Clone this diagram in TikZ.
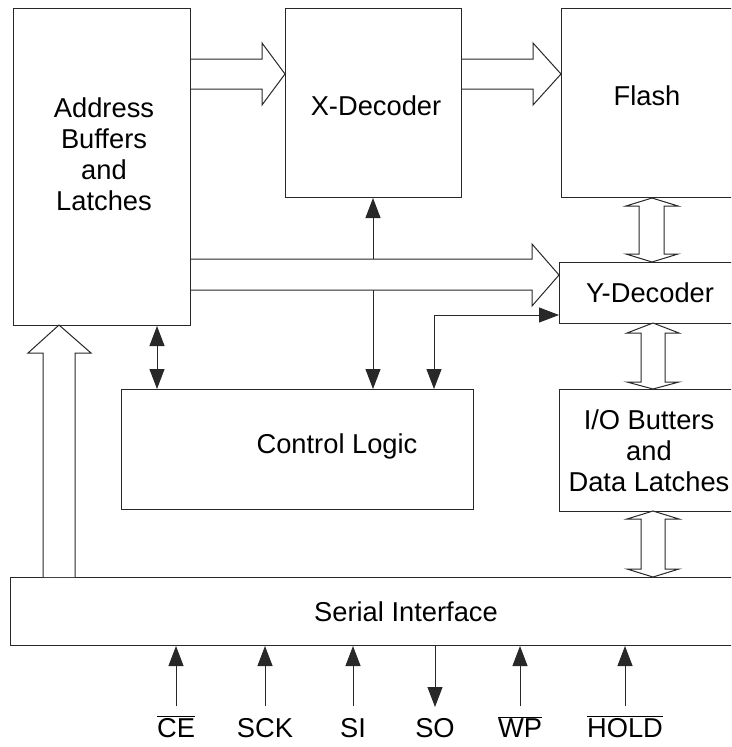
\documentclass[tikz,border=0pt]{standalone}
\usepackage{fontspec}
\setmainfont{Liberation Sans}
\usetikzlibrary{arrows.meta}
\definecolor{linec}{RGB}{40,40,40}
\begin{document}
\begin{tikzpicture}[x=1pt,y=-1pt,
  box/.style={draw=linec, line width=1pt, inner sep=0pt, anchor=north west, fill=white},
  lbl/.style={inner sep=0pt, align=center, font=\fontsize{27.3}{31}\selectfont},
  hollow/.style={draw=linec, line width=1pt, fill=white, line join=miter},
  thin/.style={draw=linec, line width=1pt},
  tip/.style={-{Triangle[width=15pt,length=20pt]}},
  tips/.style={{Triangle[width=15pt,length=20pt]}-{Triangle[width=15pt,length=20pt]}}]
\clip (0,0) rectangle (731,747);
\fill[white] (0,0) rectangle (731,747);
% boxes
\node[box, minimum width=177pt, minimum height=317pt] (addr) at (13,8) {};
\node[box, minimum width=176pt, minimum height=189pt] (xdec) at (285,8) {};
\node[box, minimum width=220pt, minimum height=189pt] (flash) at (561,8) {};
\node[box, minimum width=222pt, minimum height=61pt] (ydec) at (559,262) {};
\node[box, minimum width=222pt, minimum height=122pt] (io) at (559,389) {};
\node[box, minimum width=352pt, minimum height=120pt] (ctrl) at (121,389) {};
\node[box, minimum width=780pt, minimum height=68pt] (serial) at (10,577) {};
% labels
\node[lbl] (addrt) at (104,154) {Address\\Buffers\\and\\Latches};
\node[lbl] (xdect) at (376,106) {X-Decoder};
\node[lbl] (flasht) at (647,96) {Flash};
\node[lbl] (ydect) at (650,293) {Y-Decoder};
\node[lbl] (ctrlt) at (337,446) {Control Logic};
\node[lbl] (iot) at (649,451) {I/O Butters\\and\\Data Latches};
\node[lbl] (serialt) at (406,612) {Serial Interface};
% hollow arrows
\draw[hollow] (addr.east |- 0,59) -- (262,59) -- (262,43) -- (xdec.west |- 0,74) -- (262,105) -- (262,89) -- (addr.east |- 0,89);
\draw[hollow] (xdec.east |- 0,59) -- (533,59) -- (533,43) -- (flash.west |- 0,74) -- (533,105) -- (533,89) -- (xdec.east |- 0,89);
\draw[hollow] (addr.east |- 0,259) -- (532,259) -- (532,244) -- (ydec.west |- 0,275) -- (532,306) -- (532,290) -- (addr.east |- 0,290);
\draw[hollow] (43,577) -- (43,353) -- (28,353) -- (59,325) -- (91,353) -- (75,353) -- (75,577);
\draw[hollow] (652,198) -- (678,206) -- (664,206) -- (664,254) -- (678,254) -- (652,262) -- (626,254) -- (639,254) -- (639,206) -- (626,206) -- cycle;
\draw[hollow] (653,323) -- (679,333) -- (665,333) -- (665,382) -- (679,382) -- (653,389) -- (627,382) -- (641,382) -- (641,333) -- (627,333) -- cycle;
\draw[hollow] (653,511) -- (679,519) -- (665,519) -- (665,569) -- (679,569) -- (653,577) -- (627,569) -- (641,569) -- (641,519) -- (627,519) -- cycle;
% thin arrows
\coordinate (c1) at (157,0);
\coordinate (c2) at (373,0);
\coordinate (c3) at (434,315);
\draw[thin,tips] (addr.south -| c1) -- (ctrl.north -| c1);
\draw[thin,tip] (c2 |- 0,259) -- (xdec.south -| c2);
\draw[thin,tip] (c2 |- 0,290) -- (ctrl.north -| c2);
\draw[thin,tips] (ctrl.north -| c3) -- (c3) -- (ydec.west |- c3);
% signals
\foreach \n/\x in {ce/176, sck/265, si/353, wp/520, hold/625}{
  \coordinate (\n) at (\x,706);
  \draw[thin,tip] (\n) -- (serial.south -| \n);
}
\coordinate (so) at (435,707);
\draw[thin,tip] (serial.south -| so) -- (so);
\node[lbl, anchor=base] (cet) at (176,737) {$\overline{\mbox{CE}}$};
\node[lbl, anchor=base] (sckt) at (265,737) {SCK};
\node[lbl, anchor=base] (sit) at (353,737) {SI};
\node[lbl, anchor=base] (sot) at (435,737) {SO};
\node[lbl, anchor=base] (wpt) at (520,737) {$\overline{\mbox{WP}}$};
\node[lbl, anchor=base] (holdt) at (625,737) {$\overline{\mbox{HOLD}}$};
\end{tikzpicture}
\end{document}
